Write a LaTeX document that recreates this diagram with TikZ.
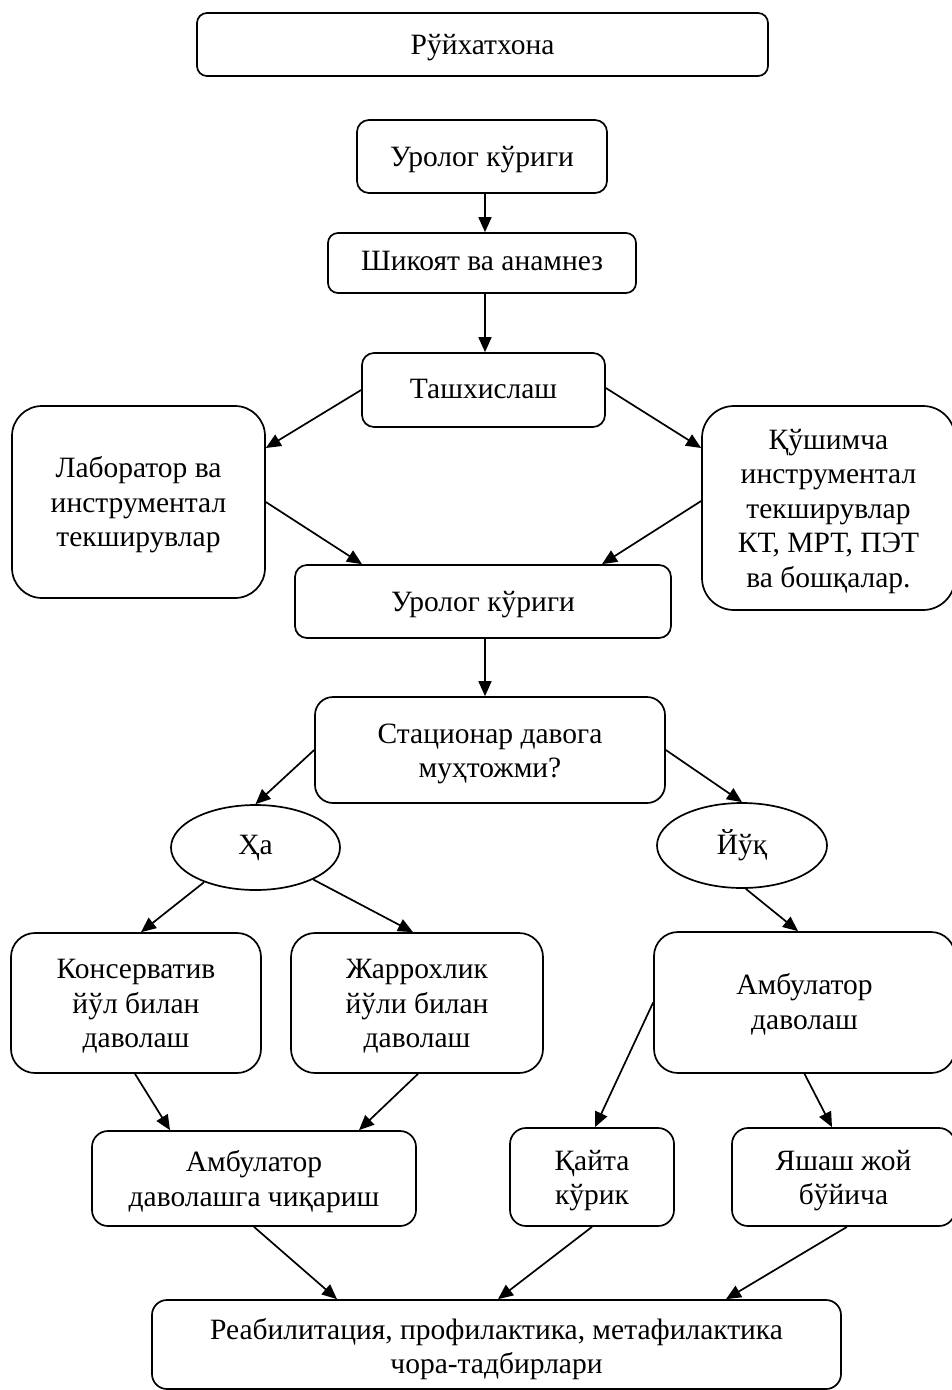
\documentclass[tikz,border=0pt]{standalone}
\usepackage{fontspec}
\setmainfont{Liberation Serif}
\usetikzlibrary{arrows.meta,shapes.geometric}
\newcommand\boxtext[2][-3.5pt]{\raisebox{#1}[\height][\depth]{\begin{tabular}{@{}c@{}}#2\end{tabular}}}
\tikzset{
  box/.style={draw, line width=1.7pt, rounded corners=#1, inner sep=0pt,
    font=\fontsize{29.5}{34.5}\selectfont},
  oval/.style={draw, line width=1.7pt, ellipse, inner sep=0pt, font=\fontsize{29.5}{34.5}\selectfont},
  conn/.style={line width=1.7pt, -{Triangle[length=15pt,width=13pt]}}
}
\begin{document}
\begin{tikzpicture}[x=1pt,y=-1pt]
\useasboundingbox[fill=white] (0,0) rectangle (952,1390);
\node[box=10pt, minimum width=571pt, minimum height=63pt] (reg) at (482.5,44.5) {\boxtext{Рўйхатхона}};
\node[box=12pt, minimum width=250pt, minimum height=73pt] (uro1) at (482,156.5) {\boxtext{Уролог кўриги}};
\node[box=10pt, minimum width=308pt, minimum height=60pt] (shik) at (482,263) {\boxtext[-1pt]{Шикоят ва анамнез}};
\node[box=12pt, minimum width=243pt, minimum height=74pt] (tash) at (483.5,390) {\boxtext[-2pt]{Ташхислаш}};
\node[box=30pt, minimum width=253pt, minimum height=192pt] (lab) at (138.5,502) {\boxtext{Лаборатор ва\\инструментал\\текширувлар}};
\node[box=32pt, minimum width=253pt, minimum height=204pt] (qush) at (828.5,508) {\boxtext{Қўшимча\\инструментал\\текширувлар\\КТ, МРТ, ПЭТ\\ва бошқалар.}};
\node[box=12pt, minimum width=376pt, minimum height=73pt] (uro2) at (483,601.5) {\boxtext{Уролог кўриги}};
\node[box=18pt, minimum width=350pt, minimum height=106pt] (stat) at (490,750) {\boxtext{Стационар давога\\муҳтожми?}};
\node[oval, minimum width=169pt, minimum height=85pt] (ha) at (255.5,847.5) {\boxtext[0pt]{Ҳа}};
\node[oval, minimum width=170pt, minimum height=85pt] (yoq) at (742,845.5) {\boxtext[-1.5pt]{Йўқ}};
\node[box=24pt, minimum width=250pt, minimum height=140pt] (kons) at (136,1003) {\boxtext{Консерватив\\йўл билан\\даволаш}};
\node[box=24pt, minimum width=252pt, minimum height=140pt] (jarr) at (417,1003) {\boxtext{Жаррохлик\\йўли билан\\даволаш}};
\node[box=24pt, minimum width=301pt, minimum height=141pt] (ambd) at (804.5,1002.5) {\boxtext[-2.5pt]{Амбулатор\\даволаш}};
\node[box=16pt, minimum width=324pt, minimum height=95pt] (ambch) at (254,1178.5) {\boxtext{Амбулатор\\даволашга чиқариш}};
\node[box=16pt, minimum width=164pt, minimum height=98pt] (qayta) at (592,1177) {\boxtext{Қайта\\кўрик}};
\node[box=16pt, minimum width=223pt, minimum height=98pt] (yash) at (843.5,1177) {\boxtext{Яшаш жой\\бўйича}};
\node[box=15pt, minimum width=689pt, minimum height=89pt] (reab) at (496.5,1344.5) {\boxtext[-5pt]{Реабилитация, профилактика, метафилактика\\чора-тадбирлари}};

\draw[conn] ([xshift=3pt]uro1.south) -- ([xshift=3pt]uro1.south |- shik.north);
\draw[conn] ([xshift=3pt]shik.south) -- ([xshift=3pt]shik.south |- tash.north);
\draw[conn] (tash.west) -- ([yshift=54pt]lab.east);
\draw[conn] ([yshift=2pt]tash.east) -- ([yshift=60pt]qush.west);
\draw[conn] (lab.east) -- ([xshift=-121pt]uro2.north);
\draw[conn] ([yshift=7pt]qush.west) -- ([xshift=119pt]uro2.north);
\draw[conn] ([xshift=2pt]uro2.south) -- ([xshift=2pt]uro2.south |- stat.north);
\draw[conn] (stat.west) -- (ha.north);
\draw[conn] (stat.east) -- (yoq.north);
\draw[conn] (ha.214) -- ([xshift=5pt]kons.north);
\draw[conn] (ha.331) -- ([xshift=-4pt]jarr.north);
\draw[conn] (yoq.-85) -- ([xshift=-6.5pt]ambd.north);
\draw[conn] ([xshift=-1pt]kons.south) -- ([xshift=-84pt]ambch.north);
\draw[conn] ([xshift=1pt]jarr.south) -- ([xshift=105pt]ambch.north);
\draw[conn] (ambd.west) -- ([xshift=3pt]qayta.north);
\draw[conn] (ambd.south) -- ([xshift=-11.5pt]yash.north);
\draw[conn] (ambch.south) -- ([xshift=-159.5pt]reab.north);
\draw[conn] (qayta.south) -- ([xshift=1.5pt]reab.north);
\draw[conn] ([xshift=3.5pt]yash.south) -- ([xshift=229.5pt]reab.north);
\end{tikzpicture}
\end{document}
